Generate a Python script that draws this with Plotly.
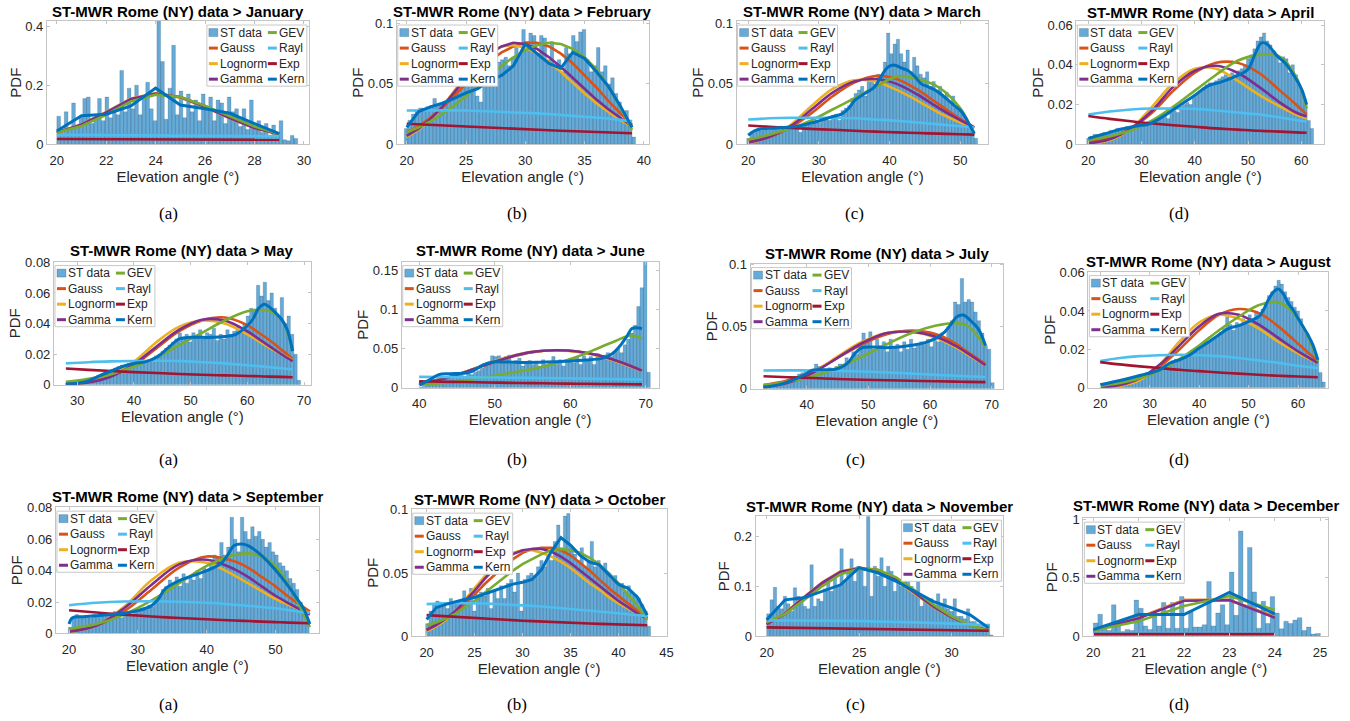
import plotly.graph_objects as go

W, H = 1350, 721

# ===================== DATA =====================
# ---- January ----
JAN_BIN_START = 20.0
JAN_BIN_WIDTH = 0.15
JAN_BARS = [0.095, 0.04, 0.11, 0.05, 0.14, 0.06, 0.095, 0.155, 0.16, 0.07,
            0.09, 0.155, 0.08, 0.16, 0.09, 0.12, 0.10, 0.25, 0.11, 0.19,
            0.12, 0.20, 0.10, 0.16, 0.21, 0.12, 0.08, 0.42, 0.28, 0.085,
            0.19, 0.335, 0.10, 0.18, 0.09, 0.17, 0.11, 0.15, 0.08, 0.17,
            0.12, 0.16, 0.08, 0.15, 0.14, 0.07, 0.16, 0.11, 0.12, 0.06,
            0.12, 0.05, 0.15, 0.06, 0.08, 0.04, 0.07, 0.03, 0.065, 0.03,
            0.08, 0.015, 0.012, 0.03, 0.02]
JAN_X = [20, 21, 22, 23, 24, 25, 26, 27, 28, 29]
JAN_GAUSS = [0.04, 0.065, 0.105, 0.15, 0.172, 0.16, 0.13, 0.09, 0.055, 0.035]
JAN_LOGN = [0.038, 0.068, 0.11, 0.155, 0.173, 0.158, 0.125, 0.088, 0.055, 0.033]
JAN_GAMMA = [0.039, 0.067, 0.108, 0.153, 0.172, 0.159, 0.127, 0.089, 0.055, 0.034]
JAN_GEV = [0.04, 0.062, 0.1, 0.145, 0.168, 0.16, 0.13, 0.095, 0.06, 0.035]
JAN_RAYL = [0.032, 0.0315, 0.031, 0.0305, 0.03, 0.0295, 0.029, 0.0285, 0.028, 0.027]
JAN_EXP = [0.018, 0.0177, 0.0174, 0.0171, 0.0168, 0.0165, 0.0162, 0.0159, 0.0156, 0.0153]
JAN_KX = [20, 21, 22, 23, 24, 25, 26, 27, 28, 29]
JAN_KERN = [0.045, 0.097, 0.102, 0.13, 0.19, 0.133, 0.12, 0.105, 0.07, 0.036]

# ---- February ----
FEB_BIN_START = 19.8
FEB_BIN_WIDTH = 0.3
FEB_BARS = [0.013, 0.02, 0.025, 0.028, 0.03, 0.03, 0.031, 0.032, 0.038, 0.033,
            0.034, 0.035, 0.038, 0.04, 0.045, 0.05, 0.055, 0.06, 0.05, 0.055,
            0.04, 0.035, 0.055, 0.06, 0.065, 0.07, 0.068, 0.07, 0.072, 0.065,
            0.072, 0.08, 0.075, 0.095, 0.085, 0.092, 0.09, 0.075, 0.09, 0.088,
            0.07, 0.085, 0.065, 0.07, 0.06, 0.08, 0.075, 0.09, 0.085, 0.093,
            0.095, 0.07, 0.06, 0.065, 0.08, 0.06, 0.065, 0.05, 0.055, 0.042,
            0.035, 0.02, 0.028, 0.02, 0.006]
FEB_X = [20, 21, 22, 23, 24, 25, 26, 27, 28, 29, 30, 31, 32, 33, 34, 35, 36, 37, 38, 39]
FEB_GAUSS = [0.01, 0.015, 0.022, 0.03, 0.04, 0.05, 0.06, 0.069, 0.076, 0.081,
             0.084, 0.084, 0.081, 0.075, 0.067, 0.057, 0.047, 0.036, 0.026, 0.016]
FEB_LOGN = [0.006, 0.012, 0.02, 0.031, 0.044, 0.057, 0.068, 0.076, 0.081, 0.082,
            0.08, 0.075, 0.068, 0.06, 0.051, 0.042, 0.034, 0.027, 0.02, 0.015]
FEB_GAMMA = [0.007, 0.013, 0.021, 0.031, 0.043, 0.055, 0.066, 0.075, 0.081, 0.084,
             0.083, 0.079, 0.072, 0.064, 0.055, 0.046, 0.037, 0.029, 0.022, 0.015]
FEB_GEV = [0.01, 0.014, 0.019, 0.025, 0.032, 0.04, 0.048, 0.057, 0.065, 0.072,
           0.078, 0.082, 0.084, 0.083, 0.079, 0.072, 0.062, 0.048, 0.031, 0.012]
FEB_RAYL = [0.028, 0.0282, 0.0283, 0.0283, 0.0282, 0.028, 0.0277, 0.0274, 0.027, 0.0266,
            0.0261, 0.0256, 0.025, 0.0244, 0.0237, 0.023, 0.0222, 0.0214, 0.0202, 0.019]
FEB_EXP = [0.017, 0.0165, 0.016, 0.0155, 0.015, 0.0145, 0.0141, 0.0136, 0.0132, 0.0128,
           0.0124, 0.012, 0.0116, 0.0112, 0.0108, 0.0105, 0.0101, 0.0098, 0.0095, 0.0092]
FEB_KX = [20, 21, 22, 23, 24, 25, 26, 27, 28, 29, 30, 31, 32, 33, 34, 35, 36, 37, 38, 39]
FEB_KERN = [0.014, 0.027, 0.031, 0.034, 0.038, 0.0425, 0.046, 0.053, 0.057, 0.065,
            0.083, 0.075, 0.067, 0.063, 0.076, 0.071, 0.06, 0.048, 0.032, 0.014]

# ---- March ----
MAR_BIN_START = 19.8
MAR_BIN_WIDTH = 0.46
MAR_BARS = [0.005, 0.01, 0.012, 0.012, 0.011, 0.013, 0.012, 0.014, 0.013, 0.014,
            0.015, 0.014, 0.015, 0.016, 0.015, 0.016, 0.01, 0.017, 0.018, 0.016,
            0.019, 0.02, 0.018, 0.021, 0.022, 0.02, 0.024, 0.025, 0.02, 0.028,
            0.03, 0.032, 0.038, 0.042, 0.045, 0.048, 0.04, 0.052, 0.055, 0.05,
            0.058, 0.056, 0.068, 0.092, 0.075, 0.083, 0.087, 0.075, 0.068, 0.078,
            0.06, 0.072, 0.065, 0.058, 0.055, 0.06, 0.048, 0.052, 0.045, 0.048,
            0.04, 0.043, 0.035, 0.04, 0.03, 0.028, 0.025, 0.02, 0.015, 0.01, 0.005]
MAR_X = [20, 23, 26, 29, 32, 35, 38, 41, 44, 47, 50, 52]
MAR_GAUSS = [0.002, 0.006, 0.014, 0.026, 0.04, 0.051, 0.0565, 0.054, 0.045, 0.033, 0.021, 0.014]
MAR_LOGN = [0.001, 0.006, 0.016, 0.032, 0.046, 0.053, 0.052, 0.045, 0.036, 0.026, 0.018, 0.014]
MAR_GAMMA = [0.0015, 0.006, 0.015, 0.029, 0.043, 0.052, 0.054, 0.05, 0.041, 0.03, 0.02, 0.014]
MAR_GEV = [0.004, 0.008, 0.013, 0.02, 0.029, 0.038, 0.0475, 0.056, 0.054, 0.047, 0.03, 0.008]
MAR_RAYL = [0.0205, 0.0215, 0.022, 0.022, 0.022, 0.0215, 0.0205, 0.0195, 0.018, 0.0165, 0.015, 0.014]
MAR_EXP = [0.0155, 0.0145, 0.0135, 0.0127, 0.012, 0.0112, 0.0105, 0.0099, 0.0093, 0.0088, 0.0083, 0.008]
MAR_KX = [20, 21.2, 24, 27, 29.8, 31.8, 33.2, 34.2, 35.1, 36.5, 37.9, 38.9, 39.8, 40.75,
          41.7, 42.6, 43.6, 44.5, 45.5, 46.4, 47.4, 48.3, 49.2, 50.2, 51.1, 52]
MAR_KERN = [0.0075, 0.012, 0.0135, 0.015, 0.019, 0.0227, 0.025, 0.0296, 0.0365, 0.042,
            0.0475, 0.057, 0.064, 0.0655, 0.063, 0.061, 0.056, 0.05, 0.0475, 0.045,
            0.041, 0.0365, 0.032, 0.027, 0.0185, 0.009]

# ---- April ----
APR_BIN_START = 19.7
APR_BIN_WIDTH = 0.6
APR_BARS = [0.003, 0.004, 0.005, 0.005, 0.005, 0.006, 0.006, 0.007, 0.007, 0.008,
            0.008, 0.008, 0.009, 0.009, 0.009, 0.01, 0.01, 0.01, 0.011, 0.011,
            0.011, 0.012, 0.013, 0.014, 0.015, 0.013, 0.016, 0.017, 0.016, 0.019,
            0.02, 0.021, 0.02, 0.024, 0.025, 0.027, 0.028, 0.03, 0.031, 0.03,
            0.032, 0.033, 0.034, 0.035, 0.034, 0.036, 0.035, 0.037, 0.038, 0.04,
            0.043, 0.045, 0.048, 0.052, 0.054, 0.056, 0.052, 0.05, 0.047, 0.045,
            0.041, 0.044, 0.043, 0.036, 0.04, 0.035, 0.03, 0.027, 0.02, 0.012, 0.008]
APR_X = [20, 24, 28, 32, 36, 40, 44, 48, 52, 56, 59, 61]
APR_GAUSS = [0.001, 0.003, 0.008, 0.016, 0.027, 0.036, 0.041, 0.041, 0.036, 0.027, 0.02, 0.015]
APR_LOGN = [0.0005, 0.002, 0.008, 0.019, 0.031, 0.038, 0.038, 0.032, 0.025, 0.019, 0.015, 0.013]
APR_GAMMA = [0.0005, 0.0025, 0.008, 0.017, 0.029, 0.037, 0.0395, 0.036, 0.029, 0.021, 0.016, 0.014]
APR_GEV = [0.002, 0.004, 0.007, 0.012, 0.019, 0.027, 0.035, 0.042, 0.045, 0.044, 0.034, 0.018]
APR_RAYL = [0.015, 0.0165, 0.0175, 0.018, 0.018, 0.0178, 0.017, 0.016, 0.015, 0.0135, 0.0122, 0.0115]
APR_EXP = [0.0142, 0.0128, 0.0116, 0.0105, 0.0096, 0.0088, 0.008, 0.0074, 0.0068, 0.0064, 0.006, 0.0058]
APR_KX = [20, 22, 24, 26, 28, 30, 31.25, 34.4, 36.25, 38.1, 40, 42.5, 45, 47.5, 50,
          51.25, 52.5, 53.5, 54.4, 55.6, 56.9, 58.75, 60, 61]
APR_KERN = [0.003, 0.0045, 0.006, 0.0076, 0.0087, 0.0096, 0.01, 0.0146, 0.018, 0.0213,
            0.0247, 0.0294, 0.0314, 0.034, 0.0378, 0.045, 0.051, 0.0505, 0.048, 0.044,
            0.041, 0.034, 0.028, 0.02]

# ---- May ----
MAY_BIN_START = 28.0
MAY_BIN_WIDTH = 0.6
MAY_BARS = [0.001, 0.001, 0.002, 0.002, 0.003, 0.003, 0.004, 0.004, 0.005, 0.006,
            0.007, 0.008, 0.009, 0.01, 0.011, 0.012, 0.013, 0.013, 0.014, 0.015,
            0.016, 0.018, 0.017, 0.015, 0.016, 0.017, 0.019, 0.02, 0.022, 0.024,
            0.026, 0.028, 0.03, 0.034, 0.03, 0.033, 0.028, 0.034, 0.032, 0.036,
            0.03, 0.034, 0.033, 0.037, 0.029, 0.033, 0.03, 0.036, 0.033, 0.035,
            0.038, 0.036, 0.04, 0.045, 0.05, 0.048, 0.065, 0.058, 0.067, 0.055,
            0.06, 0.05, 0.045, 0.057, 0.04, 0.045, 0.033, 0.02, 0.003]
MAY_X = [28, 32, 36, 40, 44, 48, 52, 56, 60, 62, 64, 66, 68]
MAY_GAUSS = [0.0007, 0.002, 0.006, 0.013, 0.024, 0.035, 0.042, 0.044, 0.039, 0.034, 0.029, 0.023, 0.017]
MAY_LOGN = [0.0003, 0.0015, 0.006, 0.015, 0.028, 0.038, 0.042, 0.04, 0.033, 0.0285, 0.024, 0.02, 0.016]
MAY_GAMMA = [0.0004, 0.0016, 0.0055, 0.0135, 0.025, 0.036, 0.0425, 0.042, 0.035, 0.03, 0.025, 0.02, 0.0155]
MAY_GEV = [0.002, 0.004, 0.007, 0.012, 0.018, 0.026, 0.034, 0.042, 0.048, 0.049, 0.048, 0.043, 0.022]
MAY_RAYL = [0.014, 0.0148, 0.0153, 0.0156, 0.0157, 0.0155, 0.0148, 0.014, 0.0128, 0.0122, 0.0115, 0.0108, 0.01]
MAY_EXP = [0.0107, 0.0098, 0.009, 0.0083, 0.0077, 0.0071, 0.0066, 0.0062, 0.0058, 0.0056, 0.0054, 0.0052, 0.005]
MAY_KX = [28, 30, 32, 34, 36, 38, 40, 42, 44, 46, 48, 50, 52, 54, 56, 58, 60, 61, 62, 63,
          64, 65, 66, 67, 68]
MAY_KERN = [0.0005, 0.001, 0.0026, 0.006, 0.009, 0.012, 0.014, 0.015, 0.018, 0.024,
            0.03, 0.031, 0.031, 0.031, 0.0316, 0.033, 0.0386, 0.043, 0.05, 0.0527,
            0.0505, 0.047, 0.043, 0.0364, 0.022]

# ---- June ----
JUN_BIN_START = 40.0
JUN_BIN_WIDTH = 0.45
JUN_BARS = [0.001, 0.002, 0.004, 0.006, 0.008, 0.012, 0.015, 0.013, 0.015, 0.016,
            0.015, 0.017, 0.016, 0.015, 0.018, 0.017, 0.02, 0.022, 0.025, 0.03,
            0.032, 0.041, 0.04, 0.041, 0.035, 0.04, 0.042, 0.031, 0.035, 0.038,
            0.028, 0.032, 0.035, 0.03, 0.034, 0.028, 0.036, 0.03, 0.033, 0.04,
            0.03, 0.036, 0.028, 0.034, 0.038, 0.032, 0.04, 0.03, 0.041, 0.035,
            0.04, 0.03, 0.044, 0.038, 0.042, 0.045, 0.04, 0.047, 0.05, 0.045,
            0.055, 0.062, 0.07, 0.08, 0.104, 0.128, 0.165, 0.02]
JUN_X = [40, 43, 46, 49, 52, 55, 58, 61, 64, 66, 68, 69.5]
JUN_GAUSS = [0.0065, 0.011, 0.02, 0.03, 0.039, 0.0455, 0.048, 0.0465, 0.041, 0.035, 0.028, 0.022]
JUN_LOGN = [0.006, 0.011, 0.02, 0.031, 0.04, 0.046, 0.048, 0.046, 0.04, 0.034, 0.027, 0.022]
JUN_GAMMA = [0.006, 0.011, 0.02, 0.03, 0.0395, 0.046, 0.048, 0.0465, 0.041, 0.035, 0.028, 0.022]
JUN_GEV = [0.004, 0.006, 0.009, 0.014, 0.019, 0.024, 0.031, 0.04, 0.052, 0.06, 0.067, 0.063]
JUN_RAYL = [0.014, 0.0138, 0.0136, 0.0133, 0.013, 0.0127, 0.0123, 0.012, 0.0115, 0.0112, 0.0108, 0.0105]
JUN_EXP = [0.0085, 0.0079, 0.0074, 0.0069, 0.0064, 0.006, 0.0056, 0.0053, 0.005, 0.0048, 0.0046, 0.0045]
JUN_KX = [40, 41.3, 42.6, 44, 46.2, 47, 48.4, 49.7, 51.5, 54.1, 56.8, 59.4, 62, 64.3,
          65.6, 66.7, 67.6, 68.2, 69.5]
JUN_KERN = [0.0034, 0.0098, 0.017, 0.018, 0.019, 0.021, 0.029, 0.033, 0.033, 0.0325,
            0.033, 0.034, 0.0355, 0.038, 0.044, 0.055, 0.0675, 0.076, 0.076]

# ---- July ----
JUL_BIN_START = 33.0
JUL_BIN_WIDTH = 0.55
JUL_BARS = [0.002, 0.003, 0.003, 0.004, 0.005, 0.006, 0.007, 0.008, 0.009, 0.01,
            0.012, 0.013, 0.014, 0.015, 0.016, 0.02, 0.018, 0.016, 0.015, 0.017,
            0.016, 0.018, 0.02, 0.02, 0.025, 0.022, 0.03, 0.028, 0.035, 0.045,
            0.038, 0.046, 0.032, 0.04, 0.035, 0.038, 0.03, 0.04, 0.034, 0.036,
            0.03, 0.038, 0.032, 0.04, 0.033, 0.035, 0.038, 0.036, 0.04, 0.034,
            0.042, 0.038, 0.045, 0.04, 0.05, 0.055, 0.07, 0.068, 0.089, 0.07,
            0.072, 0.07, 0.062, 0.055, 0.045, 0.035, 0.032, 0.005]
JUL_X = [33, 37, 41, 45, 49, 53, 57, 61, 64, 66, 69]
JUL_GAUSS = [0.003, 0.007, 0.014, 0.025, 0.036, 0.044, 0.047, 0.044, 0.037, 0.03, 0.02]
JUL_LOGN = [0.001, 0.005, 0.013, 0.026, 0.038, 0.045, 0.046, 0.041, 0.034, 0.028, 0.019]
JUL_GAMMA = [0.0015, 0.005, 0.013, 0.025, 0.037, 0.045, 0.046, 0.042, 0.035, 0.029, 0.019]
JUL_GEV = [0.003, 0.006, 0.01, 0.017, 0.026, 0.036, 0.045, 0.051, 0.053, 0.051, 0.034]
JUL_RAYL = [0.0148, 0.0149, 0.0148, 0.0145, 0.014, 0.0132, 0.0123, 0.0113, 0.0106, 0.0101, 0.0095]
JUL_EXP = [0.0102, 0.0094, 0.0087, 0.008, 0.0074, 0.0069, 0.0065, 0.0061, 0.0058, 0.0056, 0.0054]
JUL_KX = [33, 35.4, 37.6, 39.7, 40.8, 42.4, 44.6, 45.7, 46.8, 47.8, 48.9, 50.5, 52.7,
          54.9, 57, 59.2, 60.8, 62.4, 63.5, 64.3, 65.4, 66.5, 67.8, 69]
JUL_KERN = [0.0014, 0.0032, 0.0068, 0.0114, 0.0149, 0.0154, 0.0157, 0.0176, 0.0216, 0.0284,
            0.033, 0.0338, 0.0332, 0.0338, 0.0351, 0.0373, 0.0405, 0.046, 0.0527, 0.058,
            0.0595, 0.0554, 0.0486, 0.035]

# ---- August ----
AUG_BIN_START = 20.0
AUG_BIN_WIDTH = 0.65
AUG_BARS = [0.001, 0.0015, 0.002, 0.002, 0.003, 0.003, 0.004, 0.004, 0.005, 0.005,
            0.006, 0.006, 0.007, 0.007, 0.008, 0.008, 0.009, 0.009, 0.01, 0.011,
            0.012, 0.013, 0.014, 0.015, 0.015, 0.016, 0.017, 0.017, 0.018, 0.019,
            0.02, 0.021, 0.022, 0.024, 0.025, 0.026, 0.027, 0.029, 0.031, 0.037,
            0.033, 0.03, 0.034, 0.032, 0.036, 0.035, 0.038, 0.036, 0.04, 0.038,
            0.041, 0.044, 0.048, 0.05, 0.053, 0.056, 0.054, 0.05, 0.047, 0.045,
            0.042, 0.04, 0.036, 0.03, 0.028, 0.024, 0.02, 0.015, 0.008, 0.003]
AUG_X = [20, 24, 28, 32, 36, 40, 44, 48, 52, 56, 60, 64]
AUG_GAUSS = [0.0005, 0.002, 0.005, 0.011, 0.02, 0.03, 0.038, 0.041, 0.039, 0.032, 0.023, 0.014]
AUG_LOGN = [0.0002, 0.001, 0.004, 0.012, 0.024, 0.034, 0.038, 0.036, 0.031, 0.024, 0.018, 0.013]
AUG_GAMMA = [0.0003, 0.0015, 0.005, 0.012, 0.022, 0.032, 0.0385, 0.038, 0.033, 0.026, 0.019, 0.013]
AUG_GEV = [0.001, 0.0025, 0.005, 0.009, 0.015, 0.022, 0.03, 0.037, 0.043, 0.0445, 0.036, 0.014]
AUG_RAYL = [0.014, 0.0155, 0.0165, 0.017, 0.0172, 0.017, 0.0165, 0.0155, 0.0143, 0.013, 0.0115, 0.0103]
AUG_EXP = [0.0134, 0.0122, 0.0112, 0.0103, 0.0094, 0.0087, 0.008, 0.0074, 0.0068, 0.0063, 0.0059, 0.0055]
AUG_KX = [20, 24, 28, 32, 34, 36, 38, 40, 42, 44, 46, 48, 50, 52, 53, 54, 55, 56, 57, 58,
          59, 60, 61, 62, 63, 64]
AUG_KERN = [0.0016, 0.0038, 0.0064, 0.0094, 0.0128, 0.0146, 0.017, 0.0206, 0.024, 0.0276,
            0.031, 0.0324, 0.0345, 0.037, 0.0405, 0.0458, 0.0498, 0.0515, 0.049, 0.044,
            0.0405, 0.0362, 0.0319, 0.0276, 0.0224, 0.0146]

# ---- September ----
SEP_BIN_START = 19.9
SEP_BIN_WIDTH = 0.5
SEP_BARS = [0.004, 0.01, 0.012, 0.011, 0.01, 0.011, 0.01, 0.012, 0.011, 0.013,
            0.011, 0.012, 0.013, 0.014, 0.012, 0.01, 0.013, 0.014, 0.012, 0.015,
            0.014, 0.016, 0.015, 0.018, 0.017, 0.02, 0.024, 0.028, 0.03, 0.034,
            0.032, 0.036, 0.03, 0.038, 0.032, 0.036, 0.034, 0.04, 0.035, 0.042,
            0.04, 0.045, 0.05, 0.048, 0.058, 0.05, 0.055, 0.074, 0.06, 0.052,
            0.074, 0.065, 0.06, 0.068, 0.062, 0.065, 0.06, 0.055, 0.058, 0.052,
            0.05, 0.045, 0.043, 0.04, 0.035, 0.032, 0.028, 0.02, 0.015, 0.008]
SEP_X = [20, 24, 28, 32, 36, 40, 44, 46, 48, 50, 52, 55]
SEP_GAUSS = [0.0015, 0.005, 0.014, 0.028, 0.042, 0.049, 0.046, 0.042, 0.036, 0.03, 0.023, 0.014]
SEP_LOGN = [0.0008, 0.005, 0.017, 0.034, 0.045, 0.045, 0.037, 0.032, 0.027, 0.022, 0.018, 0.013]
SEP_GAMMA = [0.001, 0.005, 0.016, 0.031, 0.044, 0.047, 0.041, 0.036, 0.03, 0.024, 0.019, 0.012]
SEP_GEV = [0.003, 0.006, 0.012, 0.021, 0.032, 0.043, 0.05, 0.051, 0.049, 0.043, 0.03, 0.004]
SEP_RAYL = [0.018, 0.0195, 0.0203, 0.0205, 0.0202, 0.0195, 0.0183, 0.0176, 0.0168, 0.016, 0.0148, 0.013]
SEP_EXP = [0.0148, 0.0133, 0.012, 0.0108, 0.0098, 0.009, 0.0082, 0.0079, 0.0075, 0.0072, 0.0069, 0.0065]
SEP_KX = [20, 20.5, 22, 24, 26, 28, 30, 32, 33, 34, 36, 38, 40, 42, 43, 44, 45, 46, 48,
          50, 52, 53, 54, 55]
SEP_KERN = [0.006, 0.01, 0.0106, 0.0113, 0.012, 0.0128, 0.0145, 0.0177, 0.022, 0.0285,
            0.0336, 0.0368, 0.04, 0.0443, 0.0496, 0.056, 0.057, 0.056, 0.0496, 0.0404,
            0.0294, 0.023, 0.0166, 0.006]

# ---- October ----
OCT_BIN_START = 19.9
OCT_BIN_WIDTH = 0.35
OCT_BARS = [0.01, 0.02, 0.025, 0.028, 0.027, 0.025, 0.022, 0.03, 0.026, 0.027,
            0.028, 0.036, 0.03, 0.038, 0.02, 0.033, 0.035, 0.032, 0.038, 0.022,
            0.036, 0.03, 0.04, 0.03, 0.042, 0.045, 0.035, 0.05, 0.02, 0.045,
            0.048, 0.05, 0.048, 0.055, 0.06, 0.055, 0.065, 0.06, 0.075, 0.088,
            0.07, 0.095, 0.097, 0.07, 0.065, 0.06, 0.07, 0.055, 0.06, 0.075,
            0.055, 0.06, 0.055, 0.058, 0.05, 0.045, 0.048, 0.04, 0.042, 0.035,
            0.04, 0.035, 0.033, 0.03, 0.025, 0.02, 0.008]
OCT_X = [20, 21, 22, 23, 24, 25, 26, 27, 28, 29, 30, 31, 32, 33, 34, 35, 36, 37, 38, 39,
         40, 41, 42, 43]
OCT_GAUSS = [0.0055, 0.009, 0.013, 0.019, 0.026, 0.033, 0.041, 0.048, 0.055, 0.061,
             0.066, 0.069, 0.07, 0.07, 0.068, 0.064, 0.058, 0.052, 0.045, 0.038,
             0.032, 0.026, 0.02, 0.015]
OCT_LOGN = [0.004, 0.008, 0.013, 0.02, 0.029, 0.038, 0.047, 0.055, 0.061, 0.066,
            0.068, 0.068, 0.066, 0.063, 0.059, 0.054, 0.048, 0.042, 0.037, 0.031,
            0.026, 0.022, 0.018, 0.015]
OCT_GAMMA = [0.005, 0.009, 0.014, 0.02, 0.028, 0.036, 0.045, 0.053, 0.06, 0.065,
             0.068, 0.069, 0.069, 0.067, 0.063, 0.058, 0.052, 0.046, 0.04, 0.034,
             0.028, 0.023, 0.018, 0.014]
OCT_GEV = [0.009, 0.011, 0.014, 0.018, 0.023, 0.028, 0.034, 0.04, 0.046, 0.052,
           0.057, 0.061, 0.065, 0.068, 0.069, 0.068, 0.066, 0.062, 0.057, 0.05,
           0.042, 0.033, 0.024, 0.013]
OCT_RAYL = [0.0255, 0.026, 0.0262, 0.0263, 0.0263, 0.0262, 0.026, 0.0257, 0.0254, 0.025,
            0.0246, 0.0241, 0.0236, 0.023, 0.0224, 0.0218, 0.0211, 0.0204, 0.0197, 0.019,
            0.0183, 0.0175, 0.0168, 0.016]
OCT_EXP = [0.0168, 0.0163, 0.0158, 0.0153, 0.0148, 0.0144, 0.014, 0.0136, 0.0132, 0.0128,
           0.0124, 0.0121, 0.0117, 0.0114, 0.0111, 0.0108, 0.0105, 0.0102, 0.0099, 0.0097,
           0.0094, 0.0092, 0.009, 0.0088]
OCT_KX = [20, 21, 22, 23, 24, 25, 26, 27, 28, 29, 30, 31, 32, 33, 34, 35, 36, 37, 38, 39,
          40, 41, 42, 43]
OCT_KERN = [0.0133, 0.0227, 0.0253, 0.0275, 0.0293, 0.0307, 0.0333, 0.0365, 0.0387, 0.0413,
            0.0427, 0.045, 0.053, 0.067, 0.078, 0.072, 0.064, 0.0587, 0.0565, 0.049,
            0.041, 0.038, 0.0307, 0.0168]

# ---- November ----
NOV_BIN_START = 20.0
NOV_BIN_WIDTH = 0.18
NOV_BARS = [0.045, 0.073, 0.098, 0.06, 0.055, 0.08, 0.065, 0.05, 0.097, 0.08,
            0.068, 0.06, 0.055, 0.143, 0.06, 0.075, 0.07, 0.095, 0.115, 0.09,
            0.12, 0.1, 0.175, 0.11, 0.13, 0.155, 0.11, 0.14, 0.135, 0.1,
            0.24, 0.08, 0.14, 0.12, 0.157, 0.1, 0.14, 0.13, 0.09, 0.11,
            0.1, 0.16, 0.12, 0.1, 0.09, 0.11, 0.06, 0.08, 0.07, 0.075,
            0.06, 0.085, 0.065, 0.075, 0.055, 0.05, 0.075, 0.04, 0.04, 0.035,
            0.055, 0.03, 0.03, 0.02, 0.025, 0.02, 0.025, 0.003]
NOV_X = [20, 21, 22, 23, 24, 25, 26, 27, 28, 29, 30, 31, 32]
NOV_GAUSS = [0.025, 0.045, 0.075, 0.105, 0.128, 0.137, 0.133, 0.115, 0.088, 0.06, 0.038, 0.022, 0.012]
NOV_LOGN = [0.024, 0.047, 0.078, 0.108, 0.13, 0.137, 0.13, 0.112, 0.085, 0.059, 0.038, 0.023, 0.013]
NOV_GAMMA = [0.024, 0.046, 0.077, 0.107, 0.129, 0.136, 0.13, 0.113, 0.087, 0.06, 0.038, 0.022, 0.012]
NOV_GEV = [0.028, 0.045, 0.072, 0.1, 0.124, 0.135, 0.133, 0.118, 0.092, 0.064, 0.04, 0.022, 0.011]
NOV_RAYL = [0.032, 0.032, 0.0318, 0.0315, 0.031, 0.0305, 0.03, 0.029, 0.028, 0.027, 0.026, 0.024, 0.022]
NOV_EXP = [0.018, 0.0173, 0.0166, 0.016, 0.0154, 0.0148, 0.0142, 0.0137, 0.0132, 0.0127, 0.0122, 0.0117, 0.0112]
NOV_KX = [20, 21, 22, 23, 24, 25, 26, 27, 28, 29, 30, 31, 32]
NOV_KERN = [0.033, 0.073, 0.077, 0.09, 0.103, 0.137, 0.127, 0.11, 0.09, 0.07, 0.057, 0.043, 0.017]

# ---- December ----
DEC_BIN_START = 20.0
DEC_BIN_WIDTH = 0.1
DEC_BARS = [0.115, 0.19, 0.07, 0.05, 0.27, 0.09, 0.04, 0.06, 0.05, 0.31,
            0.24, 0.09, 0.06, 0.17, 0.09, 0.29, 0.07, 0.29, 0.07, 0.34,
            0.07, 0.21, 0.08, 0.08, 0.1, 0.47, 0.09, 0.2, 0.27, 0.1,
            0.55, 0.18, 0.9, 0.26, 0.76, 0.38, 0.07, 0.3, 0.11, 0.34,
            0.2, 0.066, 0.13, 0.11, 0.14, 0.16, 0.05, 0.08, 0.02, 0.025]
DEC_X = [20, 21, 22, 23, 24]
DEC_GAUSS = [0.05, 0.16, 0.31, 0.31, 0.17]
DEC_LOGN = [0.048, 0.16, 0.31, 0.31, 0.165]
DEC_GAMMA = [0.05, 0.155, 0.305, 0.31, 0.16]
DEC_GEV = [0.05, 0.13, 0.26, 0.345, 0.225]
DEC_RAYL = [0.03, 0.031, 0.031, 0.03, 0.029]
DEC_EXP = [0.02, 0.02, 0.02, 0.02, 0.02]
DEC_KX = [20, 21, 22, 23, 24]
DEC_KERN = [0.058, 0.187, 0.187, 0.375, 0.193]

MONTHS = ["January", "February", "March", "April", "May", "June", "July",
          "August", "September", "October", "November", "December"]
CAPTIONS = ["(a)", "(b)", "(c)", "(d)"] * 3
CURVE_NAMES = ["Gauss", "Lognorm", "Gamma", "GEV", "Rayl", "Exp"]
LEGEND_COL1 = ["ST data", "Gauss", "Lognorm", "Gamma"]
LEGEND_COL2 = ["GEV", "Rayl", "Exp", "Kern"]

PANEL_DATA = [
    (JAN_BIN_START, JAN_BIN_WIDTH, JAN_BARS, JAN_X, [JAN_GAUSS, JAN_LOGN, JAN_GAMMA, JAN_GEV, JAN_RAYL, JAN_EXP], JAN_KX, JAN_KERN),
    (FEB_BIN_START, FEB_BIN_WIDTH, FEB_BARS, FEB_X, [FEB_GAUSS, FEB_LOGN, FEB_GAMMA, FEB_GEV, FEB_RAYL, FEB_EXP], FEB_KX, FEB_KERN),
    (MAR_BIN_START, MAR_BIN_WIDTH, MAR_BARS, MAR_X, [MAR_GAUSS, MAR_LOGN, MAR_GAMMA, MAR_GEV, MAR_RAYL, MAR_EXP], MAR_KX, MAR_KERN),
    (APR_BIN_START, APR_BIN_WIDTH, APR_BARS, APR_X, [APR_GAUSS, APR_LOGN, APR_GAMMA, APR_GEV, APR_RAYL, APR_EXP], APR_KX, APR_KERN),
    (MAY_BIN_START, MAY_BIN_WIDTH, MAY_BARS, MAY_X, [MAY_GAUSS, MAY_LOGN, MAY_GAMMA, MAY_GEV, MAY_RAYL, MAY_EXP], MAY_KX, MAY_KERN),
    (JUN_BIN_START, JUN_BIN_WIDTH, JUN_BARS, JUN_X, [JUN_GAUSS, JUN_LOGN, JUN_GAMMA, JUN_GEV, JUN_RAYL, JUN_EXP], JUN_KX, JUN_KERN),
    (JUL_BIN_START, JUL_BIN_WIDTH, JUL_BARS, JUL_X, [JUL_GAUSS, JUL_LOGN, JUL_GAMMA, JUL_GEV, JUL_RAYL, JUL_EXP], JUL_KX, JUL_KERN),
    (AUG_BIN_START, AUG_BIN_WIDTH, AUG_BARS, AUG_X, [AUG_GAUSS, AUG_LOGN, AUG_GAMMA, AUG_GEV, AUG_RAYL, AUG_EXP], AUG_KX, AUG_KERN),
    (SEP_BIN_START, SEP_BIN_WIDTH, SEP_BARS, SEP_X, [SEP_GAUSS, SEP_LOGN, SEP_GAMMA, SEP_GEV, SEP_RAYL, SEP_EXP], SEP_KX, SEP_KERN),
    (OCT_BIN_START, OCT_BIN_WIDTH, OCT_BARS, OCT_X, [OCT_GAUSS, OCT_LOGN, OCT_GAMMA, OCT_GEV, OCT_RAYL, OCT_EXP], OCT_KX, OCT_KERN),
    (NOV_BIN_START, NOV_BIN_WIDTH, NOV_BARS, NOV_X, [NOV_GAUSS, NOV_LOGN, NOV_GAMMA, NOV_GEV, NOV_RAYL, NOV_EXP], NOV_KX, NOV_KERN),
    (DEC_BIN_START, DEC_BIN_WIDTH, DEC_BARS, DEC_X, [DEC_GAUSS, DEC_LOGN, DEC_GAMMA, DEC_GEV, DEC_RAYL, DEC_EXP], DEC_KX, DEC_KERN),
]

# ===================== STYLE / LAYOUT =====================
FONT = "Liberation Sans, Arial, Helvetica, sans-serif"
SERIF = "Liberation Serif, Times New Roman, serif"
TXT = "#262626"
AXC = "#c4c4c4"
BAR_FILL = "rgba(0,114,189,0.6)"
BAR_EDGE = "rgba(20,50,80,0.45)"
COLORS = {"Gauss": "#D95319", "Lognorm": "#EDB120", "Gamma": "#7E2F8E", "GEV": "#77AC30",
          "Rayl": "#4DBEEE", "Exp": "#A2142F", "Kern": "#0072BD"}

# pixel boxes (left, right, top, bottom), axis ranges, ticks, legend corner, curve shape
PANEL_LAYOUT = [
    dict(box=(48, 310, 23, 146), xr=(19.6, 30.2), yr=(0, 0.417), xt=[20, 22, 24, 26, 28, 30], yt=[0, 0.2, 0.4], leg="right", shape="linear", tdy=10),
    dict(box=(398, 650, 23, 146), xr=(19.16, 40.4), yr=(0, 0.102), xt=[20, 25, 30, 35, 40], yt=[0, 0.05, 0.1], leg="left", shape="linear", tdy=10),
    dict(box=(738, 990, 23, 146), xr=(18.35, 54.0), yr=(0, 0.102), xt=[20, 30, 40, 50], yt=[0, 0.05, 0.1], leg="left", shape="spline", tdy=10),
    dict(box=(1078, 1326, 23, 146), xr=(17.75, 64.3), yr=(0, 0.062), xt=[20, 30, 40, 50, 60], yt=[0, 0.02, 0.04, 0.06], leg="left", shape="spline", tdy=9),
    dict(box=(55, 312, 263, 386), xr=(25.9, 71.2), yr=(0, 0.0805), xt=[30, 40, 50, 60, 70], yt=[0, 0.02, 0.04, 0.06, 0.08], leg="left", shape="spline", tdy=11),
    dict(box=(403, 660, 263, 389), xr=(37.7, 71.7), yr=(0, 0.1615), xt=[40, 50, 60, 70], yt=[0, 0.05, 0.1, 0.15], leg="left", shape="spline", tdy=11),
    dict(box=(752, 1005, 265, 390), xr=(30.9, 71.9), yr=(0, 0.101), xt=[40, 50, 60, 70], yt=[0, 0.05, 0.1], leg="left", shape="spline", tdy=10),
    dict(box=(1090, 1330, 273, 389), xr=(17.6, 66.1), yr=(0, 0.0605), xt=[20, 30, 40, 50, 60], yt=[0, 0.02, 0.04, 0.06], leg="left", shape="spline", tdy=10),
    dict(box=(57, 320, 508, 634), xr=(18.1, 56.3), yr=(0, 0.0805), xt=[20, 30, 40, 50], yt=[0, 0.02, 0.04, 0.06, 0.08], leg="left", shape="spline", tdy=11),
    dict(box=(413, 668, 510, 637), xr=(18.45, 45.02), yr=(0, 0.1005), xt=[20, 25, 30, 35, 40, 45], yt=[0, 0.05, 0.1], leg="left", shape="linear", tdy=10),
    dict(box=(757, 1005, 517, 637), xr=(19.4, 32.8), yr=(0, 0.24), xt=[20, 25, 30], yt=[0, 0.1, 0.2], leg="right", shape="linear", tdy=10),
    dict(box=(1085, 1330, 519, 637), xr=(19.78, 25.18), yr=(0, 1.01), xt=[20, 21, 22, 23, 24, 25], yt=[0, 0.5, 1], leg="left", shape="linear", tdy=13),
]
CAPTION_POS = [(170, 215), (518, 215), (856, 215), (1181, 215),
               (170, 460), (518, 460), (857, 460), (1181, 460),
               (170, 705), (518, 705), (857, 705), (1181, 705)]

# the photographed page shows the figure slightly rescaled; positions below are
# given in picture pixels and mapped back to figure pixels
VOFF, VSCALE = 9.0, 0.977
HOFF, HSCALE = 1.0, 0.9954


def px(x):
    return ((x - HOFF) / HSCALE) / W


def py(y):
    return 1 - ((y - VOFF) / VSCALE) / H


fig = go.Figure()
shapes = []
annotations = []
layout_axes = {}

for k, (data, spec) in enumerate(zip(PANEL_DATA, PANEL_LAYOUT)):
    bstart, bwidth, bars, fx, fits, kx, kern = data
    sfx = "" if k == 0 else str(k + 1)
    xa, ya = "x" + sfx, "y" + sfx
    centers = [bstart + bwidth * (i + 0.5) for i in range(len(bars))]
    fig.add_trace(go.Bar(x=centers, y=bars, width=bwidth, xaxis=xa, yaxis=ya,
                         marker=dict(color=BAR_FILL, line=dict(color=BAR_EDGE, width=0.4)),
                         showlegend=False, hoverinfo="skip", name="ST data"))
    for name, yv in zip(CURVE_NAMES, fits):
        fig.add_trace(go.Scatter(x=fx, y=yv, mode="lines", xaxis=xa, yaxis=ya, name=name,
                                 line=dict(color=COLORS[name], width=2.6, shape=spec["shape"]),
                                 showlegend=False, hoverinfo="skip"))
    fig.add_trace(go.Scatter(x=kx, y=kern, mode="lines", xaxis=xa, yaxis=ya, name="Kern",
                             line=dict(color=COLORS["Kern"], width=3.0, shape=spec["shape"]),
                             showlegend=False, hoverinfo="skip"))

    L, R, T, B = spec["box"]
    common = dict(showline=True, linecolor=AXC, linewidth=1, mirror="ticks", ticks="inside",
                  ticklen=3, tickcolor=AXC, showgrid=False, zeroline=False,
                  tickfont=dict(family=FONT, size=13, color=TXT))
    layout_axes["xaxis" + sfx] = dict(domain=[px(L), px(R)], range=list(spec["xr"]), anchor=ya,
                                      tickmode="array", tickvals=spec["xt"], ticklabelstandoff=4,
                                      title=dict(text="Elevation angle (°)", standoff=2,
                                                 font=dict(family=FONT, size=15, color=TXT)),
                                      **common)
    layout_axes["yaxis" + sfx] = dict(domain=[py(B), py(T)], range=list(spec["yr"]), anchor=xa,
                                      tickmode="array", tickvals=spec["yt"],
                                      title=dict(text="PDF", standoff=0,
                                                 font=dict(family=FONT, size=15, color=TXT)),
                                      **common)

    # panel title
    annotations.append(dict(text="<b>ST-MWR Rome (NY) data > " + MONTHS[k] + "</b>",
                            x=px((L + R) / 2), y=py(T - spec["tdy"]), xref="paper", yref="paper",
                            xanchor="center", yanchor="middle", showarrow=False,
                            font=dict(family=FONT, size=15, color="#000000")))
    # caption
    cx, cy = CAPTION_POS[k]
    annotations.append(dict(text=CAPTIONS[k], x=px(cx), y=py(cy), xref="paper", yref="paper",
                            xanchor="center", yanchor="middle", showarrow=False,
                            font=dict(family=SERIF, size=17, color="#000000")))

    # legend box (two columns, MATLAB style)
    bw, bh = 100, 61
    bl = L + 1 if spec["leg"] == "left" else R - 2 - bw
    bt = T + 4
    shapes.append(dict(type="rect", xref="paper", yref="paper", x0=px(bl), x1=px(bl + bw),
                       y0=py(bt + bh), y1=py(bt), fillcolor="white",
                       line=dict(color="#c8c8c8", width=1), layer="above"))
    for col, names in enumerate([LEGEND_COL1, LEGEND_COL2]):
        sx0 = bl + (2 if col == 0 else 61)
        for r, nm in enumerate(names):
            yc = bt + 7.5 + 15.5 * r
            if nm == "ST data":
                shapes.append(dict(type="rect", xref="paper", yref="paper", x0=px(sx0), x1=px(sx0 + 9),
                                   y0=py(yc + 4), y1=py(yc - 4), fillcolor=BAR_FILL,
                                   line=dict(color=BAR_EDGE, width=0.5), layer="above"))
            else:
                shapes.append(dict(type="line", xref="paper", yref="paper", x0=px(sx0), x1=px(sx0 + 9),
                                   y0=py(yc), y1=py(yc), line=dict(color=COLORS[nm], width=3),
                                   layer="above"))
            annotations.append(dict(text=nm, x=px(sx0 + 9), y=py(yc), xref="paper", yref="paper",
                                    xanchor="left", yanchor="middle", showarrow=False,
                                    font=dict(family=FONT, size=12, color=TXT)))

fig.update_layout(width=W, height=H, autosize=False, margin=dict(l=0, r=0, t=0, b=0),
                  paper_bgcolor="white", plot_bgcolor="white", barmode="overlay",
                  showlegend=False, shapes=shapes, annotations=annotations, **layout_axes)

PAGE_FIX = ("var s=document.createElement('style');"
            "s.innerHTML='html,body{margin:0;padding:0;overflow:hidden;}"
            ".plotly-graph-div{position:absolute;left:0;top:0;}';"
            "document.head.appendChild(s);")
fig.write_html("out.html", post_script=[PAGE_FIX], config={"displayModeBar": False})
